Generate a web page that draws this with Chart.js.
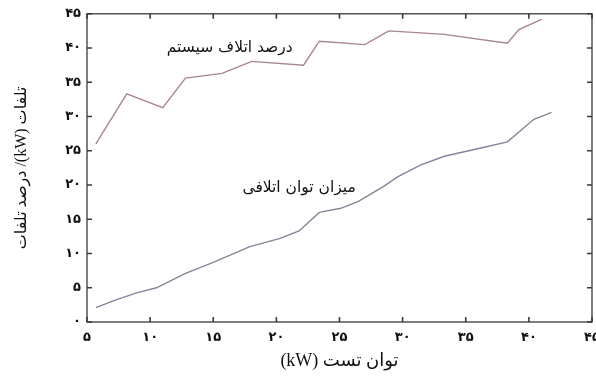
<!DOCTYPE html>
<html>
<head>
<meta charset="utf-8">
<script src="https://cdn.jsdelivr.net/npm/chart.js@4.4.1/dist/chart.umd.min.js"></script>
<style>
  html, body { margin: 0; padding: 0; background: #ffffff; }
  #wrap { width: 596px; height: 376px; }
</style>
</head>
<body>
<div id="wrap"><canvas id="c" width="596" height="376" dir="rtl"></canvas></div>
<script>
// Test power (kW) at which system loss percentage was measured
const pctPower = [5.7, 8.15, 11.0, 12.8, 15.7, 18.05, 22.15, 23.4, 27.0, 28.9, 33.3, 38.3, 39.2, 41.0];
// System loss percentage
const systemLossPct = [26.0, 33.3, 31.3, 35.6, 36.3, 38.05, 37.5, 41.0, 40.5, 42.5, 42.0, 40.7, 42.7, 44.2];

// Test power (kW) at which loss power was measured
const lossPower = [5.7, 7.4, 9.0, 10.5, 12.8, 15.0, 17.9, 20.3, 21.8, 23.4, 25.1, 26.5, 28.5, 29.6, 31.4, 33.3, 36.2, 38.3, 40.4, 41.8];
// Loss power (kW)
const lossKw = [2.1, 3.3, 4.3, 5.0, 7.1, 8.7, 11.0, 12.2, 13.3, 16.0, 16.6, 17.6, 19.8, 21.2, 22.9, 24.2, 25.4, 26.3, 29.6, 30.6];

// Axis tick values and their Persian labels
const xTicks = [5, 10, 15, 20, 25, 30, 35, 40, 45];
const yTicks = [0, 5, 10, 15, 20, 25, 30, 35, 40, 45];
const faDigits = ['۰','۱','۲','۳','۴','۵','۶','۷','۸','۹'];
const toFa = v => String(v).replace(/[0-9]/g, d => faDigits[+d]);

// Curve captions, anchored in data coordinates
const captions = [
  { text: 'درصد اتلاف سیستم', x: 16.3, y: 40.0 },
  { text: 'میزان توان اتلافی', x: 21.8, y: 19.6 }
];

const axisColor = '#3a3a3a';
const persianFont = '"DejaVu Sans", sans-serif';

// Ticks drawn inward on all four sides of the frame
const frameTicks = {
  id: 'frameTicks',
  beforeDraw(chart) { chart.ctx.direction = 'rtl'; },
  afterDatasetsDraw(chart) {
    const { ctx, chartArea: a, scales: { x, y } } = chart;
    const len = 5;
    ctx.save();
    ctx.strokeStyle = axisColor;
    ctx.lineWidth = 1.3;
    ctx.strokeRect(a.left, a.top, a.right - a.left, a.bottom - a.top);
    ctx.lineWidth = 1.6;
    ctx.beginPath();
    xTicks.forEach(v => {
      const px = x.getPixelForValue(v);
      ctx.moveTo(px, a.bottom); ctx.lineTo(px, a.bottom - len);
      ctx.moveTo(px, a.top); ctx.lineTo(px, a.top + len);
    });
    yTicks.forEach(v => {
      const py = y.getPixelForValue(v);
      ctx.moveTo(a.left, py); ctx.lineTo(a.left + len, py);
      ctx.moveTo(a.right, py); ctx.lineTo(a.right - len, py);
    });
    ctx.stroke();

    ctx.fillStyle = '#111';
    ctx.font = '15.5px ' + persianFont;
    ctx.textAlign = 'center';
    ctx.textBaseline = 'middle';
    ctx.direction = 'rtl';
    captions.forEach(c => {
      ctx.fillText(c.text, x.getPixelForValue(c.x), y.getPixelForValue(c.y));
    });
    ctx.restore();
  }
};

new Chart(document.getElementById('c'), {
  type: 'line',
  data: {
    datasets: [
      {
        label: 'درصد اتلاف سیستم',
        data: pctPower.map((p, i) => ({ x: p, y: systemLossPct[i] })),
        borderColor: '#a8858f',
        borderWidth: 1.4,
        pointRadius: 0,
        tension: 0
      },
      {
        label: 'میزان توان اتلافی',
        data: lossPower.map((p, i) => ({ x: p, y: lossKw[i] })),
        borderColor: '#86849a',
        borderWidth: 1.4,
        pointRadius: 0,
        tension: 0
      }
    ]
  },
  options: {
    responsive: false,
    animation: false,
    devicePixelRatio: 1,
    layout: { padding: { left: 0, right: 4, top: 10, bottom: 0 } },
    plugins: {
      legend: { display: false },
      tooltip: { enabled: false }
    },
    scales: {
      x: {
        type: 'linear',
        min: 5,
        max: 45,
        afterFit(s) { s.height = 54; s.paddingLeft = 0; s.paddingRight = 0; },
        afterBuildTicks(s) { s.ticks = xTicks.map(v => ({ value: v })); },
        grid: { display: false, drawTicks: false },
        border: { display: false },
        ticks: {
          padding: 8,
          color: '#111',
          maxRotation: 0,
          font: { family: persianFont, size: 13, weight: 'bold' },
          callback: v => toFa(v)
        },
        title: {
          display: true,
          text: 'توان تست (kW)',
          color: '#111',
          font: { family: '"Liberation Serif", "DejaVu Sans", serif', size: 18 },
          padding: { top: 0, bottom: 4 }
        }
      },
      y: {
        type: 'linear',
        min: 0,
        max: 45,
        afterFit(s) { s.width = 87; },
        afterBuildTicks(s) { s.ticks = yTicks.map(v => ({ value: v })); },
        grid: { display: false, drawTicks: false },
        border: { display: false },
        ticks: {
          padding: 6,
          color: '#111',
          font: { family: persianFont, size: 13, weight: 'bold' },
          callback: v => toFa(v)
        },
        title: {
          display: true,
          text: 'تلفات (kW)/ درصد تلفات',
          color: '#111',
          font: { family: '"Liberation Serif", "DejaVu Sans", serif', size: 16 },
          padding: { top: 12, bottom: 0 }
        }
      }
    }
  },
  plugins: [frameTicks]
});
</script>
</body>
</html>
